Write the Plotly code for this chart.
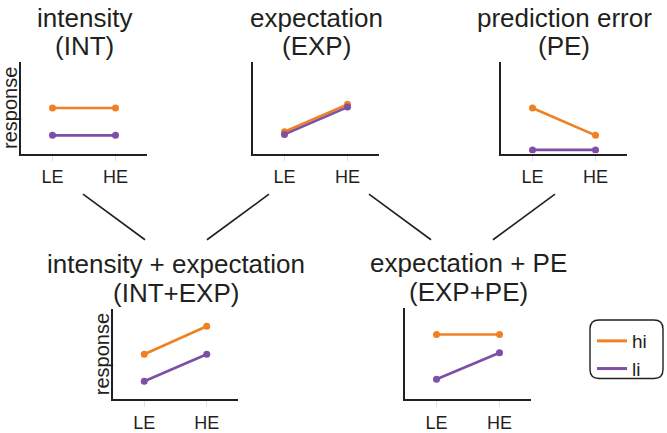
import plotly.graph_objects as go

W, H = 667, 433

# data (response on a 0-1 scale)
conditions = ["LE", "HE"]
title_lines = [("intensity", "(INT)"), ("expectation", "(EXP)"), ("prediction error", "(PE)"),
               ("intensity + expectation", "(INT+EXP)"), ("expectation + PE", "(EXP+PE)")]
hi_values = [[0.50, 0.50], [0.24, 0.54], [0.50, 0.20], [0.50, 0.81], [0.71, 0.71]]
li_values = [[0.20, 0.20], [0.21, 0.51], [0.04, 0.04], [0.20, 0.50], [0.22, 0.51]]
series_names = ["hi", "li"]

ORANGE = "#f08022"
PURPLE = "#7d4fa5"
FONT = "Liberation Sans, Arial, sans-serif"
INK = "#231f20"

# panel boxes in pixels: left, right, top, bottom
boxes = [(21, 147, 63, 155), (253, 379, 63, 155), (501, 627, 63, 155),
         (113, 238, 312, 403), (405, 531, 311, 403)]
show_ylabel = [True, False, False, True, False]


def px(x):
    return x / W


def py(y):
    return 1 - y / H


fig = go.Figure()
layout = {}
annotations = []

for i, (l, r, t, b) in enumerate(boxes):
    n = i + 1
    xa = "x" if n == 1 else f"x{n}"
    ya = "y" if n == 1 else f"y{n}"
    for vals, color in [(hi_values[i], ORANGE), (li_values[i], PURPLE)]:
        fig.add_trace(go.Scatter(
            x=[0, 1], y=vals, xaxis=xa, yaxis=ya, mode="lines+markers",
            line=dict(color=color, width=2.6), marker=dict(color=color, size=7),
            showlegend=False, hoverinfo="skip"))
    layout[f"xaxis{n}"] = dict(
        domain=[px(l), px(r)], anchor=ya, range=[-0.5, 1.5],
        tickvals=[0, 1], ticktext=conditions, showgrid=False, zeroline=False,
        showline=True, linecolor=INK, linewidth=1.6,
        ticks="outside", ticklen=6, tickcolor="rgba(0,0,0,0.12)",
        tickfont=dict(size=18, color=INK, family=FONT), fixedrange=True)
    layout[f"yaxis{n}"] = dict(
        domain=[py(b), py(t)], anchor=xa, range=[0, 1],
        showticklabels=False, ticks="", showgrid=False, zeroline=False,
        showline=True, linecolor=INK, linewidth=1.6, fixedrange=True)
    # two-line title, placed line by line for tighter spacing
    for k, line in enumerate(title_lines[i]):
        annotations.append(dict(
            x=px((l + r) / 2), y=py(t + 1 - 29 * (1 - k)), xref="paper", yref="paper",
            xanchor="center", yanchor="bottom", text=line, showarrow=False,
            font=dict(size=26, color=INK, family=FONT)))
    if show_ylabel[i]:
        annotations.append(dict(
            x=px(l - 11), y=py((t + b) / 2), xref="paper", yref="paper",
            xanchor="center", yanchor="middle", text="response", textangle=-90,
            showarrow=False, font=dict(size=20, color=INK, family=FONT)))

# legend-only entries
for name, color in zip(series_names, [ORANGE, PURPLE]):
    fig.add_trace(go.Scatter(x=[None], y=[None], mode="lines", name=name,
                             line=dict(color=color, width=3)))

# connector lines between the rows
connectors = [(83, 196, 145, 242), (269, 196, 207, 242),
              (369, 196, 431, 242), (555, 196, 493, 242)]
shapes = []
for x0, y0, x1, y1 in connectors:
    shapes.append(dict(type="line", xref="paper", yref="paper",
                       x0=px(x0), y0=py(y0), x1=px(x1), y1=py(y1),
                       line=dict(color=INK, width=1.6)))

# rounded legend frame
bl, br, bt, bb, rad = 590, 663, 323, 382, 9
path = (f"M {px(bl + rad)},{py(bt)} L {px(br - rad)},{py(bt)} "
        f"Q {px(br)},{py(bt)} {px(br)},{py(bt + rad)} L {px(br)},{py(bb - rad)} "
        f"Q {px(br)},{py(bb)} {px(br - rad)},{py(bb)} L {px(bl + rad)},{py(bb)} "
        f"Q {px(bl)},{py(bb)} {px(bl)},{py(bb - rad)} L {px(bl)},{py(bt + rad)} "
        f"Q {px(bl)},{py(bt)} {px(bl + rad)},{py(bt)} Z")
shapes.append(dict(type="path", xref="paper", yref="paper", path=path,
                   line=dict(color=INK, width=1.4)))

fig.update_layout(
    width=W, height=H, margin=dict(l=0, r=0, t=0, b=0),
    paper_bgcolor="white", plot_bgcolor="white",
    annotations=annotations, shapes=shapes,
    showlegend=True,
    legend=dict(x=px(592), y=py(325), xanchor="left", yanchor="top",
                bgcolor="rgba(0,0,0,0)", borderwidth=0,
                font=dict(size=19, color=INK, family=FONT),
                itemwidth=30, tracegroupgap=0),
    **layout)

fig.write_html("out.html", config={"displayModeBar": False},
               post_script="document.body.style.margin='0';")
